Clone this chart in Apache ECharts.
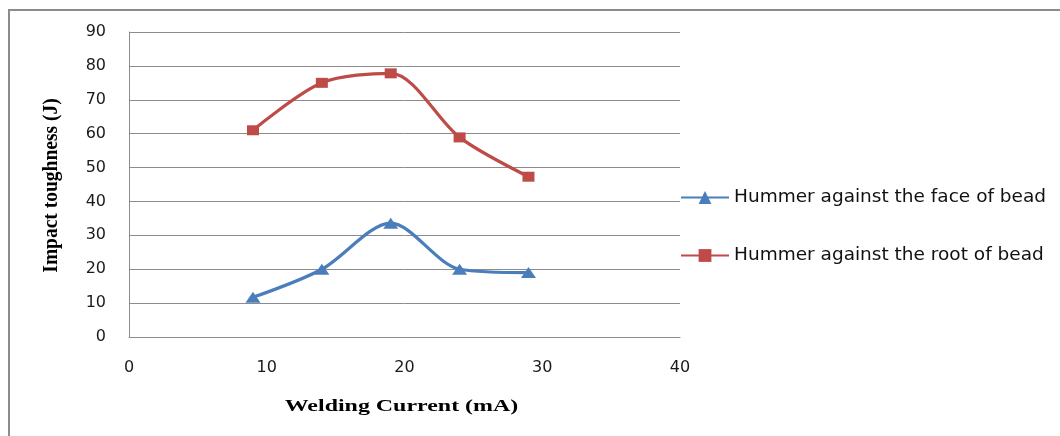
<!DOCTYPE html>
<html>
<head>
<meta charset="utf-8">
<script src="https://cdn.jsdelivr.net/npm/echarts@6/dist/echarts.min.js"></script>
<style>
  html, body { margin: 0; padding: 0; background: #fff; }
  #chart { width: 1060px; height: 436px; }
</style>
</head>
<body>
<div id="chart"></div>
<script>
// Welding current (mA) at which each specimen was tested
const current = [9, 14, 19, 24, 29];
// Impact toughness (J) for each hammering direction
const faceOfBead = [11.7, 20, 33.6, 20, 19];
const rootOfBead = [61, 75, 77.8, 58.9, 47.3];
const seriesNames = ['Hummer against the face of bead', 'Hummer against the root of bead'];
const xTitle = 'Welding Current (mA)';
const yTitle = 'Impact toughness (J)';

const pairs = (xs, ys) => xs.map((x, i) => [x, ys[i]]);

const chart = echarts.init(document.getElementById('chart'), null, { renderer: 'canvas' });

const labelFont = { fontFamily: 'DejaVu Sans', fontSize: 16, color: '#1a1a1a' };
const axisGray = '#8c8c8c';

chart.setOption({
  animation: false,
  backgroundColor: '#fff',
  grid: { left: 129, top: 32, right: 380, bottom: 99 },
  xAxis: {
    type: 'value', min: 0, max: 40, interval: 10,
    axisLine: { show: true, lineStyle: { color: axisGray, width: 1 } },
    axisTick: { show: false },
    splitLine: { show: false },
    axisLabel: Object.assign({ margin: 23 }, labelFont)
  },
  yAxis: {
    type: 'value', min: 0, max: 90, interval: 10,
    axisLine: { show: true, lineStyle: { color: axisGray, width: 1 } },
    axisTick: { show: false },
    splitLine: { show: true, lineStyle: { color: axisGray, width: 1 } },
    axisLabel: Object.assign({ margin: 23 }, labelFont)
  },
  legend: {
    orient: 'vertical',
    left: 675, top: 183,
    itemWidth: 48, itemHeight: 16, itemGap: 39,
    textStyle: { fontFamily: 'DejaVu Sans', fontSize: 18.5, lineHeight: 16, color: '#111' },
    data: seriesNames
  },
  graphic: [
    // outer frame (left and top edges)
    { type: 'line', shape: { x1: 9, y1: 10, x2: 9, y2: 436 }, style: { stroke: axisGray, lineWidth: 2 } },
    { type: 'line', shape: { x1: 8, y1: 10, x2: 1060, y2: 10 }, style: { stroke: axisGray, lineWidth: 2 } },
    {
      type: 'text', x: 52, y: 185.5, rotation: Math.PI / 2, scaleY: 1.07,
      style: {
        text: yTitle, fill: '#000',
        font: 'bold 19.5px "Liberation Serif"', align: 'center', verticalAlign: 'middle'
      }
    },
    {
      type: 'text', x: 401.5, y: 407, scaleX: 1.45,
      style: {
        text: xTitle, fill: '#000',
        font: 'bold 16.5px "Liberation Serif"', align: 'center', verticalAlign: 'middle'
      }
    }
  ],
  series: [
    {
      name: seriesNames[0], type: 'line', smooth: 0.3,
      data: pairs(current, faceOfBead),
      symbol: 'triangle', symbolSize: [15, 11],
      lineStyle: { color: '#4a7ebb', width: 3.2 },
      itemStyle: { color: '#4a7ebb' }
    },
    {
      name: seriesNames[1], type: 'line', smooth: 0.3,
      data: pairs(current, rootOfBead),
      symbol: 'rect', symbolSize: [12, 10],
      lineStyle: { color: '#be4b48', width: 3.2 },
      itemStyle: { color: '#be4b48' }
    }
  ]
});
</script>
</body>
</html>
